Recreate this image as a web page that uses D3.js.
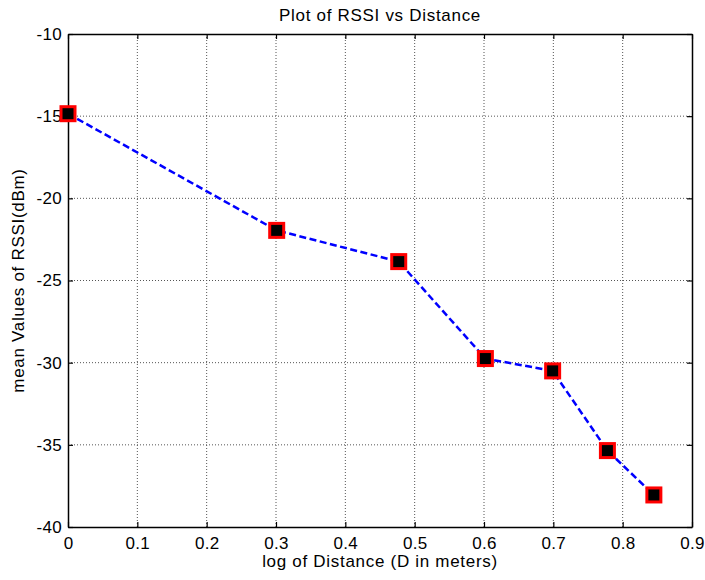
<!DOCTYPE html>
<html>
<head>
<meta charset="utf-8">
<script src="https://cdn.jsdelivr.net/npm/d3@7"></script>
<style>
  body { margin: 0; background: #fff; }
  text { font-family: "Liberation Sans", Arial, sans-serif; fill: #000; }
</style>
</head>
<body>
<svg id="chart"></svg>
<script>
const width = 705;
const height = 580;

// data: log10 of distance vs mean RSSI
const logDistance = [0, 0.301, 0.477, 0.602, 0.699, 0.778, 0.845];
const meanRssi = [-14.85, -21.95, -23.85, -29.75, -30.5, -35.35, -38.05];
const xTicks = [0, 0.1, 0.2, 0.3, 0.4, 0.5, 0.6, 0.7, 0.8, 0.9];
const yTicks = [-10, -15, -20, -25, -30, -35, -40];

const margin = { top: 34, right: 13, bottom: 53, left: 68 };
const innerW = width - margin.left - margin.right;
const innerH = height - margin.top - margin.bottom;

const svg = d3.select("#chart")
    .attr("width", width)
    .attr("height", height);

const x = d3.scaleLinear().domain([0, 0.9]).range([margin.left, margin.left + innerW]);
const y = d3.scaleLinear().domain([-40, -10]).range([margin.top + innerH, margin.top]);

// grid lines
const grid = svg.append("g").attr("class", "grid");
grid.selectAll(".gx")
    .data(xTicks.slice(1, -1))
    .join("line")
    .attr("x1", d => x(d)).attr("x2", d => x(d))
    .attr("y1", margin.top).attr("y2", margin.top + innerH)
    .attr("stroke", "#555").attr("stroke-width", 1)
    .attr("stroke-dasharray", "1,2");
grid.selectAll(".gy")
    .data(yTicks.slice(1, -1))
    .join("line")
    .attr("y1", d => y(d)).attr("y2", d => y(d))
    .attr("x1", margin.left).attr("x2", margin.left + innerW)
    .attr("stroke", "#555").attr("stroke-width", 1)
    .attr("stroke-dasharray", "1,2");

// axes, ticks pointing inwards
const tickLen = 5;
const fmt = d => String(d);
svg.append("g")
    .attr("transform", `translate(0,${margin.top + innerH})`)
    .call(d3.axisBottom(x).tickValues(xTicks).tickSizeInner(-tickLen).tickSizeOuter(0).tickPadding(10)
        .tickFormat(fmt));
svg.append("g")
    .attr("transform", `translate(0,${margin.top})`)
    .call(d3.axisTop(x).tickValues(xTicks).tickSizeInner(-tickLen).tickSizeOuter(0).tickFormat(""));
svg.append("g")
    .attr("transform", `translate(${margin.left},0)`)
    .call(d3.axisLeft(y).tickValues(yTicks).tickSizeInner(-tickLen).tickSizeOuter(0).tickPadding(6)
        .tickFormat(fmt));
svg.append("g")
    .attr("transform", `translate(${margin.left + innerW},0)`)
    .call(d3.axisRight(y).tickValues(yTicks).tickSizeInner(-tickLen).tickSizeOuter(0).tickFormat(""));

svg.selectAll(".domain").attr("stroke", "#000").attr("stroke-width", 1.5);
svg.selectAll(".tick line").attr("stroke", "#000").attr("stroke-width", 1.2);
svg.selectAll(".tick text")
    .attr("font-family", "Liberation Sans, Arial, sans-serif")
    .attr("font-size", 17)
    .attr("letter-spacing", 0.3)
    .attr("fill", "#000");

// data line
const pts = logDistance.map((d, i) => [d, meanRssi[i]]);
svg.append("path")
    .datum(pts)
    .attr("fill", "none")
    .attr("stroke", "#0000ff")
    .attr("stroke-width", 2.5)
    .attr("stroke-dasharray", "7,3.5")
    .attr("d", d3.line().x(d => x(d[0])).y(d => y(d[1])));

// markers
const ms = 14;
svg.append("g")
    .selectAll("rect")
    .data(pts)
    .join("rect")
    .attr("x", d => x(d[0]) - ms / 2)
    .attr("y", d => y(d[1]) - ms / 2)
    .attr("width", ms).attr("height", ms)
    .attr("fill", "#000")
    .attr("stroke", "#ff0000")
    .attr("stroke-width", 3);

// labels
svg.append("text")
    .attr("x", margin.left + innerW / 2)
    .attr("y", 21)
    .attr("text-anchor", "middle")
    .attr("font-size", 17)
    .attr("letter-spacing", 0.7)
    .text("Plot of RSSI vs Distance");

svg.append("text")
    .attr("x", margin.left + innerW / 2)
    .attr("y", 567)
    .attr("text-anchor", "middle")
    .attr("font-size", 17)
    .attr("letter-spacing", 0.7)
    .text("log of Distance (D in meters)");

svg.append("text")
    .attr("transform", `translate(24,${margin.top + innerH / 2}) rotate(-90)`)
    .attr("text-anchor", "middle")
    .attr("font-size", 17)
    .attr("letter-spacing", 0.7)
    .text("mean Values of RSSI(dBm)");
</script>
</body>
</html>
